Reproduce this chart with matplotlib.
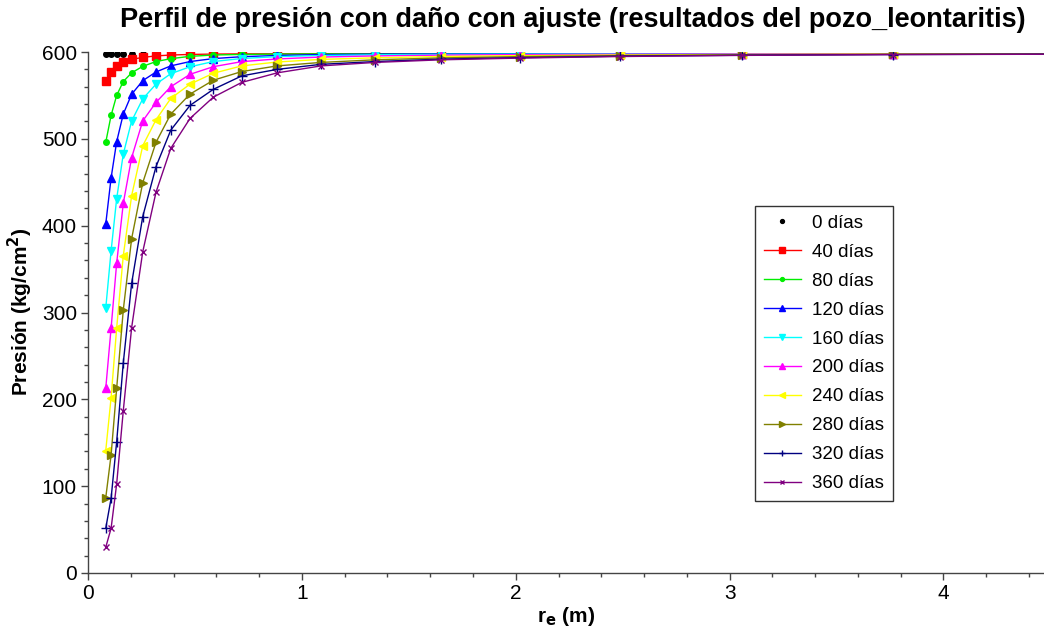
import matplotlib
matplotlib.use("Agg")
import matplotlib.pyplot as plt
from matplotlib.ticker import MultipleLocator

# radial distance (m)
r_m = [0.083, 0.108, 0.134, 0.165, 0.204, 0.256, 0.318, 0.387, 0.477, 0.586,
       0.719, 0.885, 1.090, 1.342, 1.651, 2.021, 2.488, 3.059, 3.765, 4.630]

# pressure profiles (kg/cm2) for each elapsed time
p_0 = [598, 598, 598, 598, 598, 598, 598, 598, 598, 598,
       598, 598, 598, 598, 598, 598, 598, 598, 598, 598]
p_40 = [567, 576.5, 583.5, 588, 591.5, 593.8, 595.5, 596.5, 597.2, 597.6,
        597.8, 597.9, 598, 598, 598, 598, 598, 598, 598, 598]
p_80 = [496, 527, 550, 566, 576, 583.5, 589, 592.3, 595, 596.5,
        597.2, 597.6, 597.8, 597.9, 598, 598, 598, 598, 598, 598]
p_120 = [402, 455, 496.7, 528.6, 551.3, 567, 577, 584, 589, 592.4,
         594.6, 596, 597, 597.5, 597.8, 597.9, 598, 598, 598, 598]
p_160 = [305, 371, 431, 482.5, 520.5, 546, 563, 575, 583, 589,
         592.5, 594.7, 596, 596.8, 597.3, 597.6, 597.8, 597.9, 598, 598]
p_200 = [212.7, 282, 356.7, 425.8, 478.3, 520.6, 542, 560, 574.3, 583.1,
         588.9, 592, 594.2, 595.5, 596.4, 597, 597.4, 597.7, 597.9, 598]
p_240 = [141, 202, 282, 365.5, 434.5, 492, 522, 546.5, 563, 575.5,
         584, 588.5, 591.5, 593.3, 594.8, 595.8, 596.6, 597.2, 597.6, 597.9]
p_280 = [86.7, 136, 212.5, 303, 385, 449.5, 496, 528.5, 551.5, 567.5,
         577.5, 584, 588, 591, 593.2, 594.7, 595.9, 596.8, 597.4, 597.8]
p_320 = [51.5, 86, 151, 242, 333.5, 410.5, 468, 510, 538.5, 557,
         572.5, 580, 585.8, 589, 591.8, 593.5, 595.2, 596.3, 597.1, 597.6]
p_360 = [29.6, 51.5, 102.5, 187, 282.5, 370, 438.5, 489, 523.5, 548,
         565, 576, 584, 588, 591, 593, 594.8, 596.1, 597.0, 597.5]

labels = ["0 días", "40 días", "80 días", "120 días", "160 días",
          "200 días", "240 días", "280 días", "320 días", "360 días"]

x_ticks = [0, 1, 2, 3, 4]
y_ticks = [0, 100, 200, 300, 400, 500, 600]

series = [p_0, p_40, p_80, p_120, p_160, p_200, p_240, p_280, p_320, p_360]
styles = [
    dict(color="black", marker="o", ms=4, ls="none"),
    dict(color="#ff0000", marker="s", ms=5.5),
    dict(color="#00ee00", marker="o", ms=4),
    dict(color="#0000ff", marker="^", ms=5.5),
    dict(color="#00ffff", marker="v", ms=5.5),
    dict(color="#ff00ff", marker="^", ms=5.5),
    dict(color="#ffff00", marker="<", ms=5.5),
    dict(color="#808000", marker=">", ms=5.5),
    dict(color="#000080", marker="+", ms=7, mew=1),
    dict(color="#800080", marker="x", ms=5, mew=1),
]

W, H = 1044, 633
fig = plt.figure(figsize=(W / 100, H / 100), dpi=100)
ax = fig.add_axes([88 / W, 60 / H, (W - 88) / W, 521 / H])

for p, lab, st in zip(series, labels, styles):
    ax.plot(r_m, p, label=lab, lw=1.0, **st)

ax.set_xlim(0, 4.47)
ax.set_ylim(0, 600)
ax.set_xticks(x_ticks)
ax.set_yticks(y_ticks)
ax.xaxis.set_minor_locator(MultipleLocator(0.2))
ax.yaxis.set_minor_locator(MultipleLocator(20))

for s in ("top", "right"):
    ax.spines[s].set_visible(False)
for s in ("left", "bottom"):
    ax.spines[s].set_color("#444444")
    ax.spines[s].set_linewidth(1.0)

base_font = ["Liberation Sans", "DejaVu Sans"]
ax.tick_params(which="major", direction="out", length=5, width=1,
               color="#444444", labelsize=15, pad=3)
ax.tick_params(which="minor", direction="out", length=3, width=1,
               color="#444444")
for t in ax.get_xticklabels() + ax.get_yticklabels():
    t.set_family(base_font)

fig.text(573 / W, 1 - 20 / H,
         "Perfil de presión con daño con ajuste (resultados del pozo_leontaritis)",
         ha="center", va="center", fontsize=19.5, fontweight="bold",
         family=base_font)
fig.text(20 / W, 1 - 312 / H, "Presión (kg/cm$^\\mathbf{2}$)",
         rotation=90, ha="center", va="center", fontsize=15,
         fontweight="bold", family=base_font)
fig.text(566 / W, 1 - 617 / H, "r$_\\mathbf{e}$ (m)", ha="center",
         va="center", fontsize=15, fontweight="bold",
         family=base_font)

leg = ax.legend(loc="upper left", bbox_to_anchor=(0.698, 0.704),
                borderaxespad=0, frameon=True, fancybox=False,
                edgecolor="#333333", framealpha=1,
                prop={"family": base_font, "size": 13.5},
                handlelength=2.0, handletextpad=0.6, labelspacing=0.63,
                borderpad=0.45, markerscale=0.7)
leg.get_frame().set_linewidth(1.0)

fig.savefig("out.png", dpi=100)
